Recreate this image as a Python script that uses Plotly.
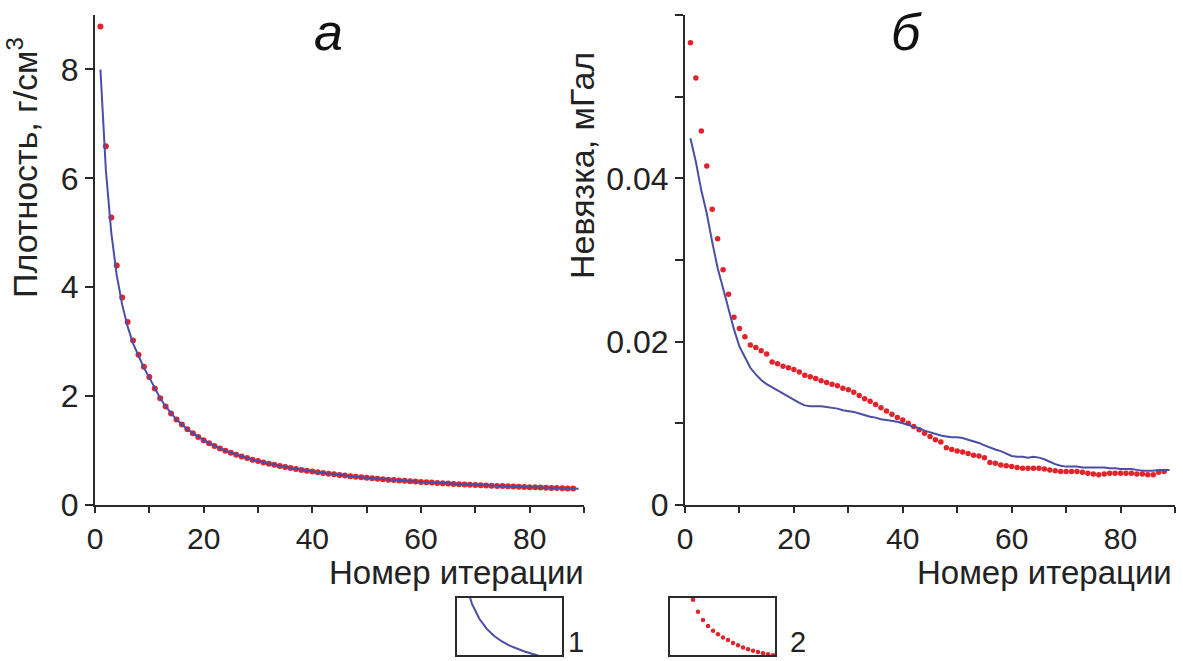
import plotly.graph_objects as go

# ---------------- data ----------------
iters_red = list(range(1, 89))
iters_blue = list(range(1, 90))

density_red = [8.79, 6.59, 5.28, 4.40, 3.81, 3.36, 3.02, 2.76, 2.54, 2.35,
               2.14, 1.96, 1.81, 1.68, 1.57, 1.48, 1.39, 1.32, 1.25, 1.19,
               1.135, 1.085, 1.04, 0.998, 0.96, 0.925, 0.892, 0.861, 0.833, 0.807,
               0.782, 0.759, 0.737, 0.716, 0.697, 0.679, 0.662, 0.645, 0.630, 0.615,
               0.601, 0.588, 0.575, 0.563, 0.551, 0.540, 0.529, 0.519, 0.509, 0.500,
               0.491, 0.482, 0.474, 0.466, 0.458, 0.451, 0.444, 0.437, 0.430, 0.423,
               0.417, 0.411, 0.405, 0.399, 0.394, 0.388, 0.383, 0.378, 0.373, 0.369,
               0.364, 0.359, 0.355, 0.351, 0.347, 0.343, 0.339, 0.335, 0.331, 0.328,
               0.324, 0.320, 0.317, 0.314, 0.311, 0.307, 0.304, 0.301]

density_blue = [8.00, 6.15, 5.00, 4.22, 3.68, 3.28, 2.97, 2.73, 2.52, 2.34,
                2.14, 1.96, 1.81, 1.68, 1.57, 1.48, 1.39, 1.32, 1.25, 1.19,
                1.135, 1.085, 1.04, 0.998, 0.96, 0.925, 0.892, 0.861, 0.833, 0.807,
                0.782, 0.759, 0.737, 0.716, 0.697, 0.679, 0.662, 0.645, 0.630, 0.615,
                0.601, 0.588, 0.575, 0.563, 0.551, 0.540, 0.529, 0.519, 0.509, 0.500,
                0.491, 0.482, 0.474, 0.466, 0.458, 0.451, 0.444, 0.437, 0.430, 0.423,
                0.417, 0.411, 0.405, 0.399, 0.394, 0.388, 0.383, 0.378, 0.373, 0.369,
                0.364, 0.359, 0.355, 0.351, 0.347, 0.343, 0.339, 0.335, 0.331, 0.328,
                0.324, 0.320, 0.317, 0.314, 0.311, 0.307, 0.304, 0.301, 0.298]

misfit_red = [0.0566, 0.0523, 0.0458, 0.0415, 0.0362, 0.0326, 0.0288, 0.0258, 0.0230, 0.0216,
              0.0206, 0.0196, 0.0193, 0.0189, 0.0185, 0.0175, 0.0173, 0.0170, 0.0168, 0.0166,
              0.0163, 0.0159, 0.0157, 0.0155, 0.0152, 0.0150, 0.0148, 0.0146, 0.0143, 0.0141,
              0.0138, 0.0134, 0.0130, 0.0127, 0.0123, 0.0119, 0.0115, 0.0111, 0.0107, 0.0104,
              0.0100, 0.0096, 0.0092, 0.0088, 0.0084, 0.0080, 0.0077, 0.0070, 0.0068, 0.0066,
              0.0065, 0.0063, 0.0061, 0.0060, 0.0058, 0.0052, 0.0051, 0.0049, 0.0048, 0.0047,
              0.0046, 0.0045, 0.0045, 0.0045, 0.0045, 0.0044, 0.0043, 0.0042, 0.0041, 0.0041,
              0.0041, 0.0041, 0.0040, 0.0039, 0.0038, 0.0037, 0.0038, 0.0039, 0.0039, 0.0039,
              0.0039, 0.0039, 0.0038, 0.0038, 0.0037, 0.0037, 0.0040, 0.0041]

misfit_blue = [0.0449, 0.0420, 0.0385, 0.0357, 0.0322, 0.0290, 0.0265, 0.0240, 0.0215, 0.0194,
               0.0180, 0.0168, 0.0160, 0.0153, 0.0148, 0.0144, 0.0140, 0.0136, 0.0132, 0.0129,
               0.0125, 0.0122, 0.0121, 0.0121, 0.0121, 0.0120, 0.0119, 0.0118, 0.0116, 0.0115,
               0.0114, 0.0112, 0.0110, 0.0108, 0.0107, 0.0105, 0.0104, 0.0103, 0.0102, 0.0100,
               0.0098, 0.0096, 0.0094, 0.0091, 0.0089, 0.0087, 0.0085, 0.0084, 0.0083, 0.0083,
               0.0082, 0.0080, 0.0078, 0.0076, 0.0073, 0.0070, 0.0068, 0.0066, 0.0063, 0.0060,
               0.0059, 0.0059, 0.0058, 0.0059, 0.0058, 0.0056, 0.0053, 0.0050, 0.0048, 0.0047,
               0.0047, 0.0047, 0.0046, 0.0046, 0.0046, 0.0046, 0.0046, 0.0045, 0.0045, 0.0044,
               0.0044, 0.0044, 0.0043, 0.0042, 0.0042, 0.0042, 0.0043, 0.0043, 0.0043]

panel_titles = ["а", "б"]
x_title = "Номер итерации"
y_titles = ["Плотность, г/см<sup>3</sup>", "Невязка, мГал"]
legend_labels = ["1", "2"]

# ---------------- style ----------------
W, H = 1183, 661
BLUE = "#4a4ea6"
RED = "#e3232b"
AX = "#2a2a2a"
FONT = "Liberation Sans, Arial, sans-serif"
FS = 32
FX = 30
FT = 33

def px(x):
    return x / W

def py(y):
    return (H - y) / H

fig = go.Figure()

# panel a
fig.add_trace(go.Scatter(x=iters_red, y=density_red, mode="markers",
                         marker=dict(color=RED, size=6, line=dict(width=0)),
                         xaxis="x", yaxis="y", showlegend=False))
fig.add_trace(go.Scatter(x=iters_blue, y=density_blue, mode="lines",
                         line=dict(color=BLUE, width=2),
                         xaxis="x", yaxis="y", showlegend=False))
# panel б
fig.add_trace(go.Scatter(x=iters_red, y=misfit_red, mode="markers",
                         marker=dict(color=RED, size=5.5, line=dict(width=0)),
                         xaxis="x2", yaxis="y2", showlegend=False))
fig.add_trace(go.Scatter(x=iters_blue, y=misfit_blue, mode="lines",
                         line=dict(color=BLUE, width=2),
                         xaxis="x2", yaxis="y2", showlegend=False))
# legend samples (parts of the data seen through small boxes)
fig.add_trace(go.Scatter(x=iters_blue, y=density_blue, mode="lines",
                         line=dict(color=BLUE, width=2),
                         xaxis="x3", yaxis="y3", showlegend=False))
fig.add_trace(go.Scatter(x=iters_red, y=density_red, mode="markers",
                         marker=dict(color=RED, size=4.5, line=dict(width=0)),
                         xaxis="x4", yaxis="y4", showlegend=False, cliponaxis=True))

common = dict(showline=True, linecolor=AX, linewidth=2, ticks="outside",
              tickwidth=2, tickcolor=AX, showgrid=False, zeroline=False,
              automargin=False)

box = dict(showline=True, mirror=True, linecolor=AX, linewidth=2, ticks="",
           showticklabels=False, showgrid=False, zeroline=False, automargin=False)

minor_x = dict(ticks="outside", ticklen=6, tickwidth=2, tickcolor=AX)
minor_y = dict(ticks="outside", ticklen=8, tickwidth=2, tickcolor=AX)
xfont = dict(family=FONT, size=FX, color="#222")
yfont = dict(family=FONT, size=FS, color="#222")

fig.update_layout(
    template="none",
    width=W, height=H, margin=dict(l=0, r=0, t=0, b=0, pad=0), autosize=False,
    paper_bgcolor="white", plot_bgcolor="white",
    xaxis=dict(domain=[px(95), px(584)], range=[0, 90], anchor="y", tick0=0, dtick=20,
               ticklen=6, tickfont=xfont, minor=dict(dtick=10, **minor_x), **common),
    yaxis=dict(domain=[py(505), py(15)], range=[0, 9], anchor="x", tick0=0, dtick=2,
               ticklen=8, tickfont=yfont, **common),
    xaxis2=dict(domain=[px(685), px(1175)], range=[0, 90], anchor="y2", tick0=0, dtick=20,
                ticklen=6, tickfont=xfont, minor=dict(dtick=10, **minor_x), **common),
    yaxis2=dict(domain=[py(505), py(15)], range=[0, 0.06], anchor="x2", tick0=0, dtick=0.02,
                ticklen=8, tickfont=yfont, minor=dict(dtick=0.01, **minor_y), **common),
    xaxis3=dict(domain=[px(457), px(562)], range=[0, 14], anchor="y3", **box),
    yaxis3=dict(domain=[py(655), py(598)], range=[2.25, 6.6], anchor="x3", **box),
    xaxis4=dict(domain=[px(670), px(775)], range=[-1.6, 19.4], anchor="y4", **box),
    yaxis4=dict(domain=[py(655), py(598)], range=[1.26, 5.4], anchor="x4", **box),
)

ann = []
# panel letters
ann.append(dict(text="<i>" + panel_titles[0] + "</i>", x=px(328), y=py(32),
                xref="paper", yref="paper", showarrow=False,
                xanchor="center", yanchor="middle",
                font=dict(family=FONT, size=52, color="#111")))
ann.append(dict(text="<i>" + panel_titles[1] + "</i>", x=px(906), y=py(32),
                xref="paper", yref="paper", showarrow=False,
                xanchor="center", yanchor="middle",
                font=dict(family=FONT, size=52, color="#111")))
# x titles
for xr in (586, 1174):
    ann.append(dict(text=x_title, x=px(xr), y=py(572), xref="paper", yref="paper",
                    showarrow=False, xanchor="right", yanchor="middle",
                    font=dict(family=FONT, size=FT, color="#222")))
# y titles
ann.append(dict(text=y_titles[0], x=px(22), y=py(168), xref="paper", yref="paper",
                showarrow=False, xanchor="center", yanchor="middle", textangle=-90,
                font=dict(family=FONT, size=34, color="#222")))
ann.append(dict(text=y_titles[1], x=px(582), y=py(166), xref="paper", yref="paper",
                showarrow=False, xanchor="center", yanchor="middle", textangle=-90,
                font=dict(family=FONT, size=34, color="#222")))
# legend labels
ann.append(dict(text=legend_labels[0], x=px(576), y=py(642), xref="paper", yref="paper",
                showarrow=False, xanchor="center", yanchor="middle",
                font=dict(family=FONT, size=29, color="#222")))
ann.append(dict(text=legend_labels[1], x=px(798), y=py(642), xref="paper", yref="paper",
                showarrow=False, xanchor="center", yanchor="middle",
                font=dict(family=FONT, size=29, color="#222")))

fig.update_layout(annotations=ann)

fig.write_html("out.html")
